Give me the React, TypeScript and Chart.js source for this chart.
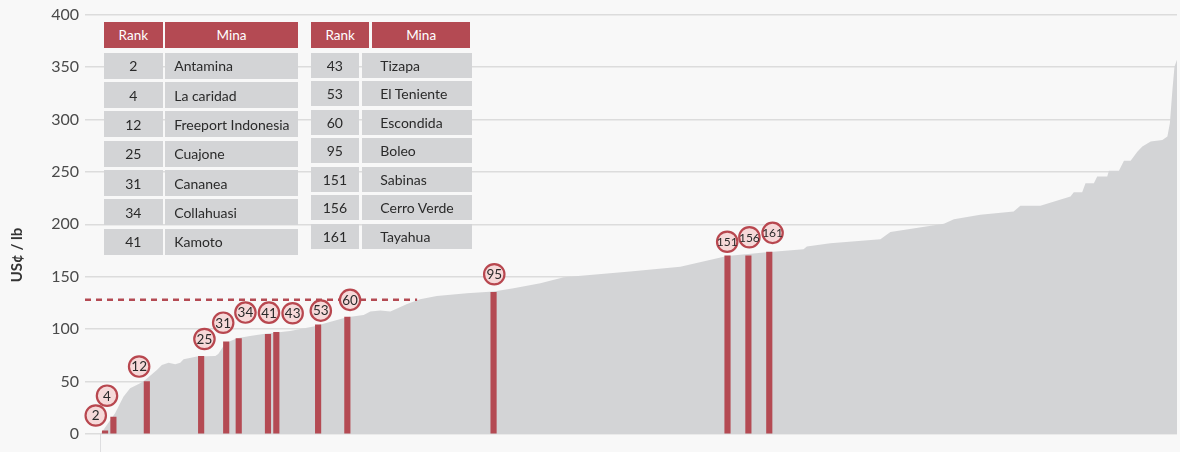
import React, { useEffect, useRef } from "react";
import { Chart, registerables } from "chart.js";

Chart.register(...registerables);

// ---------- data ----------
const curveRanks = [
  0.8, 0.95, 1.0, 1.6, 4.4, 6.4, 8.0, 10.4, 11.6, 14.4, 15.6, 17.2, 18.8, 20.0, 20.8, 24.0,
  28.4, 29.1, 30.8, 33.6, 36.7, 39.9, 46.3, 51.9, 59.9, 63.9, 65.5, 67.9, 70.3, 71.5, 74.3,
  77.4, 81.4, 88.6, 95.0, 99.8, 106.2, 111.8, 127.7, 139.7, 150.9, 159.7, 169.2, 170.0,
  175.6, 187.6, 190.0, 202.8, 205.2, 211.5, 219.5, 221.1, 225.9, 233.1, 233.9, 235.9,
  236.7, 238.7, 239.5, 241.9, 242.3, 244.7, 245.9, 247.5, 249.1, 250.3, 252.3, 255.1,
  256.3, 256.9, 257.5, 258.0, 258.6,
];
const curveValues = [
  -25, -25, 0, 3.8, 19.8, 35.6, 43.6, 48.4, 51.5, 61.1, 65.8, 68.0, 66.5, 68.0, 71.3, 73.8,
  74.4, 76.3, 86.5, 91.3, 93.5, 95.4, 98.3, 102.4, 111.4, 113.5, 116.7, 117.7, 116.7, 119.0,
  124.0, 128.5, 131.7, 134.3, 135.8, 139.0, 143.8, 149.5, 154.9, 159.6, 169.8, 173.0,
  176.2, 178.7, 182.0, 185.8, 192.7, 200.4, 204.9, 209.0, 212.1, 217.6, 217.6, 226.4,
  230.6, 230.6, 239.2, 239.2, 245.5, 245.5, 251.0, 251.0, 260.5, 260.5, 269.1, 274.1,
  278.9, 280.5, 283.7, 296.5, 328.2, 350.5, 357,
];

const barRanks = [2, 4, 12, 25, 31, 34, 41, 43, 53, 60, 95, 151, 156, 161];
const barValues = [3, 16, 50, 74, 88, 91, 95, 97, 104, 111.5, 135, 170, 170, 173.5];
const mineNames = [
  "Antamina", "La caridad", "Freeport Indonesia", "Cuajone", "Cananea", "Collahuasi", "Kamoto",
  "Tizapa", "El Teniente", "Escondida", "Boleo", "Sabinas", "Cerro Verde", "Tayahua",
];
const yTicks = [0, 50, 100, 150, 200, 250, 300, 350, 400];
const thresholdValue = 128;
const thresholdEndRank = 76.7;
const tableHeaders = ["Rank", "Mina"];
const yAxisTitle = "US¢ / lb";

// ---------- layout / style constants ----------
const W = 1180;
const H = 452;
const BG = "#f8f8f8";
const RED = "#b44a53";
const AREA = "#d3d4d6";
const GRID = "#dcdcdc";
const FONT = "Lato, 'Noto Sans', sans-serif";
// pixel nudges of the rank badges relative to each bar top
const labelNudge: [number, number][] = [
  [-9.3, -15.3], [-6.4, -21.5], [-7.7, -15], [3.3, -17.4], [-3, -19], [6.7, -26], [1, -21.7],
  [16.3, -19], [2.7, -14.3], [2.7, -17.2], [0.7, -18.2], [-0.3, -14], [1, -18.5], [3.3, -19.2],
];

const badgePlugin = {
  id: "badges",
  afterDatasetsDraw(chart: any) {
    const { ctx, scales } = chart;
    const xs = scales.x;
    const ys = scales.y;
    ctx.save();
    barRanks.forEach((r, i) => {
      const px = xs.getPixelForValue(r) + labelNudge[i][0];
      const py = ys.getPixelForValue(barValues[i]) + labelNudge[i][1];
      ctx.beginPath();
      ctx.arc(px, py, 10.2, 0, Math.PI * 2);
      ctx.fillStyle = "#f6d9d9";
      ctx.fill();
      ctx.lineWidth = 2.2;
      ctx.strokeStyle = "#b8474f";
      ctx.stroke();
      const txt = String(r);
      ctx.fillStyle = "#2a2a2a";
      ctx.font = (txt.length > 2 ? "12px " : "13.5px ") + FONT;
      ctx.textAlign = "center";
      ctx.textBaseline = "middle";
      ctx.fillText(txt, px, py + 0.5);
    });
    ctx.restore();
  },
};

const titlePlugin = {
  id: "ytitle",
  afterDraw(chart: any) {
    const { ctx } = chart;
    ctx.save();
    ctx.translate(17, 255);
    ctx.rotate(-Math.PI / 2);
    ctx.font = "bold 15px " + FONT;
    ctx.fillStyle = "#333";
    ctx.textAlign = "center";
    ctx.textBaseline = "middle";
    ctx.fillText(yAxisTitle, 0, 0);
    ctx.restore();
  },
};

function Table({ left, ranks, names, colW, headColW, pitch, rowH, nameIndent }: any) {
  return (
    <div style={{ position: "absolute", left, top: 22 }}>
      <div style={{ display: "flex", gap: 2.5 }}>
        {tableHeaders.map((h, i) => (
          <div
            key={h}
            style={{
              width: headColW[i],
              height: 26,
              background: RED,
              color: "#fff",
              fontSize: 13.5,
              fontFamily: FONT,
              display: "flex",
              alignItems: "center",
              justifyContent: "center",
            }}
          >
            {h}
          </div>
        ))}
      </div>
      {ranks.map((r: number, j: number) => (
        <div
          key={r}
          style={{ position: "absolute", top: 30.7 + j * pitch, left: 0, display: "flex", gap: colW[2] }}
        >
          <div
            style={{
              width: colW[0],
              height: rowH,
              background: AREA,
              color: "#2a2a2a",
              fontSize: 14,
              fontFamily: FONT,
              display: "flex",
              alignItems: "center",
              justifyContent: "center",
            }}
          >
            {r}
          </div>
          <div
            style={{
              width: colW[1],
              height: rowH,
              background: AREA,
              color: "#2a2a2a",
              fontSize: 14,
              fontFamily: FONT,
              display: "flex",
              alignItems: "center",
              paddingLeft: nameIndent,
              boxSizing: "border-box",
              whiteSpace: "nowrap",
            }}
          >
            {names[j]}
          </div>
        </div>
      ))}
    </div>
  );
}

export default function App() {
  const ref = useRef<HTMLCanvasElement | null>(null);

  useEffect(() => {
    if (!ref.current) return;
    const chart = new Chart(ref.current, {
      type: "line",
      data: {
        datasets: [
          {
            type: "line",
            label: "threshold",
            data: [
              { x: -2.8, y: thresholdValue },
              { x: thresholdEndRank, y: thresholdValue },
            ],
            borderColor: RED,
            borderWidth: 2.5,
            borderDash: [6, 5],
            pointRadius: 0,
            fill: false,
            order: 1,
          },
          {
            type: "bar",
            label: "mines",
            data: barRanks.map((r, i) => ({ x: r, y: barValues[i] })),
            backgroundColor: RED,
            barThickness: 5.5,
            order: 2,
          } as any,
          {
            type: "line",
            label: "curve",
            data: curveRanks.map((r, i) => ({ x: r, y: curveValues[i] })),
            borderWidth: 0,
            borderColor: "rgba(0,0,0,0)",
            backgroundColor: AREA,
            fill: "origin",
            pointRadius: 0,
            tension: 0,
            order: 3,
          },
        ],
      },
      options: {
        animation: false,
        responsive: false,
        layout: { padding: { top: 14.6, right: 3, bottom: 0, left: 0 } },
        plugins: { legend: { display: false }, tooltip: { enabled: false } },
        scales: {
          x: {
            type: "linear",
            min: -2.8,
            max: 258.6,
            offset: false,
            display: false,
          },
          y: {
            min: -17.2,
            max: 400,
            border: { display: false },
            grid: { color: GRID, lineWidth: 1.5, drawTicks: false },
            afterBuildTicks: (scale: any) => {
              scale.ticks = yTicks.map((v) => ({ value: v }));
            },
            afterFit: (scale: any) => {
              scale.width = 85;
              scale.paddingTop = 0;
              scale.paddingBottom = 0;
            },
            ticks: {
              padding: 6,
              color: "#4a4a4a",
              font: { family: FONT, size: 16 },
            },
          },
        },
      },
      plugins: [badgePlugin, titlePlugin],
    });
    return () => chart.destroy();
  }, []);

  return (
    <div style={{ position: "fixed", left: 0, top: 0, width: W, height: H, background: BG, overflow: "hidden" }}>
      <canvas ref={ref} width={W} height={H} style={{ position: "absolute", left: 0, top: 0, width: W, height: H }} />
      <Table
        left={104}
        ranks={barRanks.slice(0, 7)}
        names={mineNames.slice(0, 7)}
        headColW={[58.7, 132.7]}
        colW={[58.7, 132.7, 2.5]}
        pitch={29.35}
        rowH={26}
        nameIndent={9}
      />
      <Table
        left={311}
        ranks={barRanks.slice(7)}
        names={mineNames.slice(7)}
        headColW={[58.3, 98.7]}
        colW={[47.7, 109.4, 3.6]}
        pitch={28.55}
        rowH={25}
        nameIndent={18}
      />
    </div>
  );
}
